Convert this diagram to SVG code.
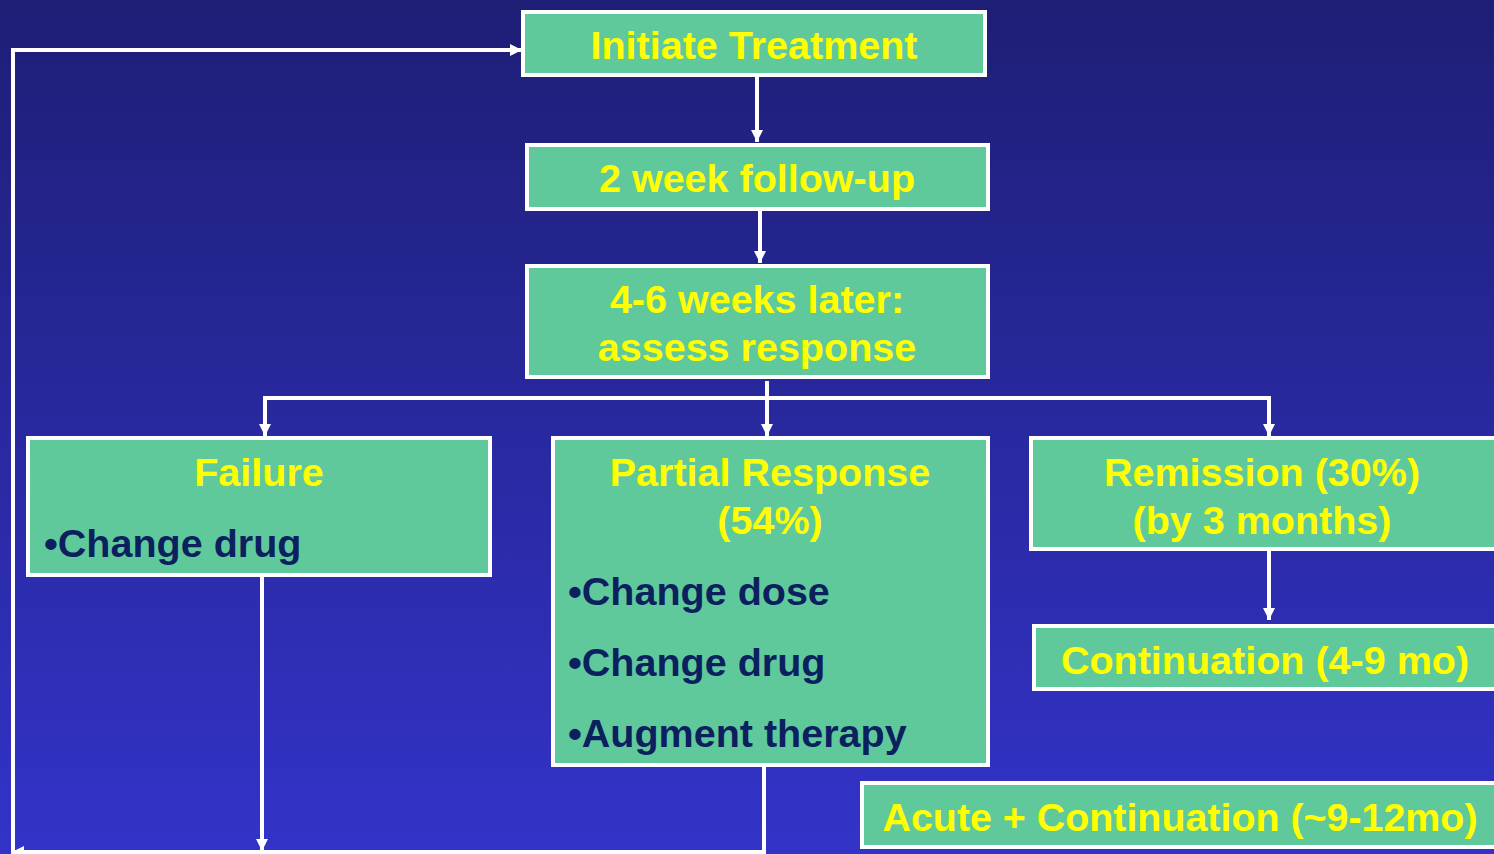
<svg xmlns="http://www.w3.org/2000/svg" width="1494" height="854" viewBox="0 0 1494 854">
<defs>
<linearGradient id="bg" x1="0" y1="0" x2="0" y2="1">
<stop offset="0" stop-color="#1e1e76"/>
<stop offset="1" stop-color="#3333c9"/>
</linearGradient>
<marker id="ah" viewBox="0 0 12 12" refX="12" refY="6" markerWidth="12" markerHeight="12" markerUnits="userSpaceOnUse" orient="auto">
<path d="M0,0 L12,6 L0,12 Z" fill="#ffffff"/>
</marker>
</defs>
<style>
.box{fill:#5fc99c;stroke:#ffffff;stroke-width:4}
.t{font-family:"Liberation Sans",Arial,sans-serif;font-weight:bold;font-size:39.5px;fill:#ffff00;text-anchor:middle}
.b{font-family:"Liberation Sans",Arial,sans-serif;font-weight:bold;font-size:39.5px;fill:#0c1f5e}
.c{fill:none;stroke:#ffffff;stroke-width:4}
</style>
<rect width="1494" height="854" fill="url(#bg)"/>
<g id="connectors">
<path class="c" d="M757,77 V142" marker-end="url(#ah)"/>
<path class="c" d="M760,211 V263" marker-end="url(#ah)"/>
<path class="c" d="M767,381 V436" marker-end="url(#ah)"/>
<path class="c" d="M265,398 H1269"/>
<path class="c" d="M265,396 V436" marker-end="url(#ah)"/>
<path class="c" d="M1269,396 V436" marker-end="url(#ah)"/>
<path class="c" d="M1269,551 V620" marker-end="url(#ah)"/>
<path class="c" d="M262,577 V851" marker-end="url(#ah)"/>
<path class="c" d="M764,767 V852 H12" marker-end="url(#ah)"/>
<path class="c" d="M13,856 V50 H522" marker-end="url(#ah)"/>
</g>
<g id="initiate">
<rect class="box" x="523" y="12" width="462" height="63"/>
<text class="t" x="754" y="59">Initiate Treatment</text>
</g>
<g id="followup">
<rect class="box" x="527" y="145" width="461" height="64"/>
<text class="t" x="757" y="192">2 week follow-up</text>
</g>
<g id="assess">
<rect class="box" x="527" y="266" width="461" height="111"/>
<text class="t" x="757" y="313">4-6 weeks later:</text>
<text class="t" x="757" y="361">assess response</text>
</g>
<g id="failure">
<rect class="box" x="28" y="438" width="462" height="137"/>
<text class="t" x="259" y="486">Failure</text>
<text class="b" x="44" y="557">•Change drug</text>
</g>
<g id="partial">
<rect class="box" x="553" y="438" width="435" height="327"/>
<text class="t" x="770" y="486">Partial Response</text>
<text class="t" x="770" y="534">(54%)</text>
<text class="b" x="568" y="605">•Change dose</text>
<text class="b" x="568" y="676">•Change drug</text>
<text class="b" x="568" y="747">•Augment therapy</text>
</g>
<g id="remission">
<rect class="box" x="1031" y="438" width="470" height="111"/>
<text class="t" x="1262" y="486">Remission (30%)</text>
<text class="t" x="1262" y="534">(by 3 months)</text>
</g>
<g id="continuation">
<rect class="box" x="1034" y="626" width="467" height="63"/>
<text class="t" x="1265" y="674">Continuation (4-9 mo)</text>
</g>
<g id="acute">
<rect class="box" x="862" y="783" width="639" height="64"/>
<text class="t" x="1180" y="831" textLength="595" lengthAdjust="spacingAndGlyphs">Acute + Continuation (~9-12mo)</text>
</g>
</svg>
